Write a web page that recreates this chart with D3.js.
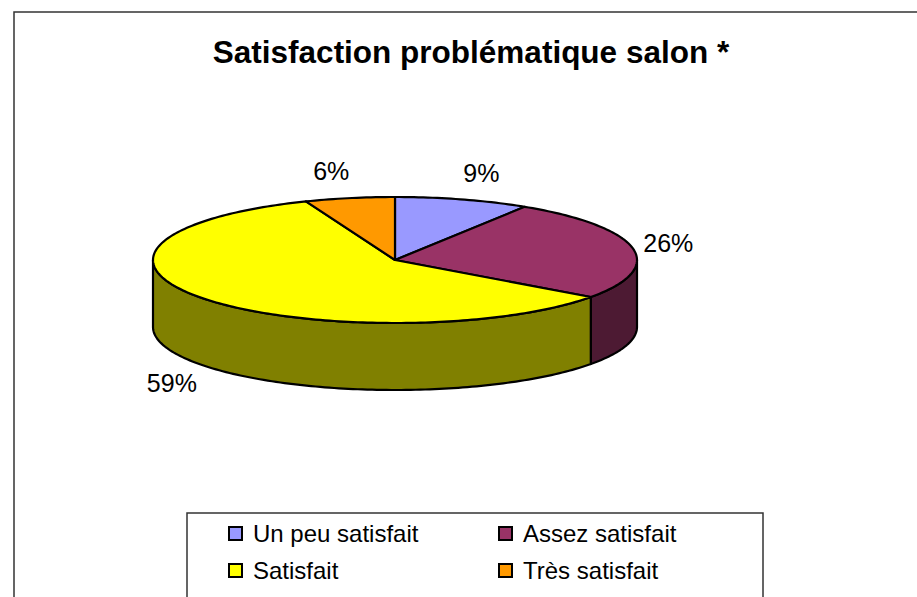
<!DOCTYPE html>
<html><head><meta charset="utf-8">
<script src="https://cdn.jsdelivr.net/npm/d3@7"></script>
<style>html,body{margin:0;padding:0;background:#fff;overflow:hidden}</style>
</head><body>
<svg id="c" width="917" height="597"></svg>
<script>
const title = "Satisfaction problématique salon *";
const categories = ["Un peu satisfait", "Assez satisfait", "Satisfait", "Très satisfait"];
const values = [9, 26, 59, 6];
const labels = ["9%", "26%", "59%", "6%"];
const colors = ["#9999FF", "#993366", "#FFFF00", "#FF9900"];

const svg = d3.select("#c");
svg.append("rect").attr("x", 14).attr("y", 12).attr("width", 940).attr("height", 620)
  .attr("fill", "#fff").attr("stroke", "#333").attr("stroke-width", 1.5);

svg.append("text").attr("x", 471).attr("y", 63).attr("text-anchor", "middle")
  .attr("font-family", "Liberation Sans, Arial, sans-serif").attr("font-weight", "bold")
  .attr("font-size", 31.5).attr("fill", "#000").text(title);

const cx = 395, cy = 260, rx = 242, ry = 63, depth = 67;
const pie = d3.pie().sort(null).value(d => d)(values);
const P = (a, dy = 0) => [cx + rx * Math.sin(a), cy - ry * Math.cos(a) + dy];

function arcPts(a0, a1, dy) {
  const n = Math.max(2, Math.ceil(Math.abs(a1 - a0) / 0.02));
  return d3.range(n + 1).map(i => P(a0 + (a1 - a0) * i / n, dy));
}
const line = d3.line();

const g = svg.append("g");
// sides (front visible range PI/2 .. 3PI/2)
pie.forEach((p, i) => {
  const a0 = Math.max(p.startAngle, Math.PI / 2), a1 = Math.min(p.endAngle, 3 * Math.PI / 2);
  if (a1 <= a0) return;
  const top = arcPts(a0, a1, 0), bot = arcPts(a1, a0, depth);
  const sc = d3.rgb(colors[i]);
  const sideCol = d3.rgb(sc.r * 0.5, sc.g * 0.5, sc.b * 0.5);
  g.append("path").attr("d", line(top.concat(bot)) + "Z")
    .attr("fill", sideCol).attr("stroke", "#000").attr("stroke-width", 2.2).attr("stroke-linejoin", "round");
});
// top faces
pie.forEach((p, i) => {
  const pts = [[cx, cy]].concat(arcPts(p.startAngle, p.endAngle, 0));
  g.append("path").attr("d", line(pts) + "Z")
    .attr("fill", colors[i]).attr("stroke", "#000").attr("stroke-width", 2.2).attr("stroke-linejoin", "round");
});

// labels
pie.forEach((p, i) => {
  const m = (p.startAngle + p.endAngle) / 2;
  const s = Math.sin(m), c = Math.cos(m);
  let [ex, ey] = P(m);
  if (c < 0) ey += depth;
  const yc = ey - c * 28;
  const x = ex + 11 * s * Math.abs(s);
  svg.append("text").attr("x", x).attr("y", yc + 9)
    .attr("text-anchor", s >= 0 ? "start" : "end")
    .attr("font-family", "Liberation Sans, Arial, sans-serif").attr("font-size", 25)
    .attr("fill", "#000").text(labels[i]);
});

// legend
svg.append("rect").attr("x", 187).attr("y", 513).attr("width", 576).attr("height", 120)
  .attr("fill", "#fff").attr("stroke", "#333").attr("stroke-width", 1.5);
categories.forEach((cat, i) => {
  const col = i % 2, row = Math.floor(i / 2);
  const lx = 229 + col * 270, ly = 527 + row * 37;
  svg.append("rect").attr("x", lx).attr("y", ly).attr("width", 13).attr("height", 13)
    .attr("fill", colors[i]).attr("stroke", "#000").attr("stroke-width", 2);
  svg.append("text").attr("x", lx + 24).attr("y", ly + 15)
    .attr("font-family", "Liberation Sans, Arial, sans-serif").attr("font-size", 24)
    .attr("fill", "#000").text(cat);
});
</script>
</body></html>
